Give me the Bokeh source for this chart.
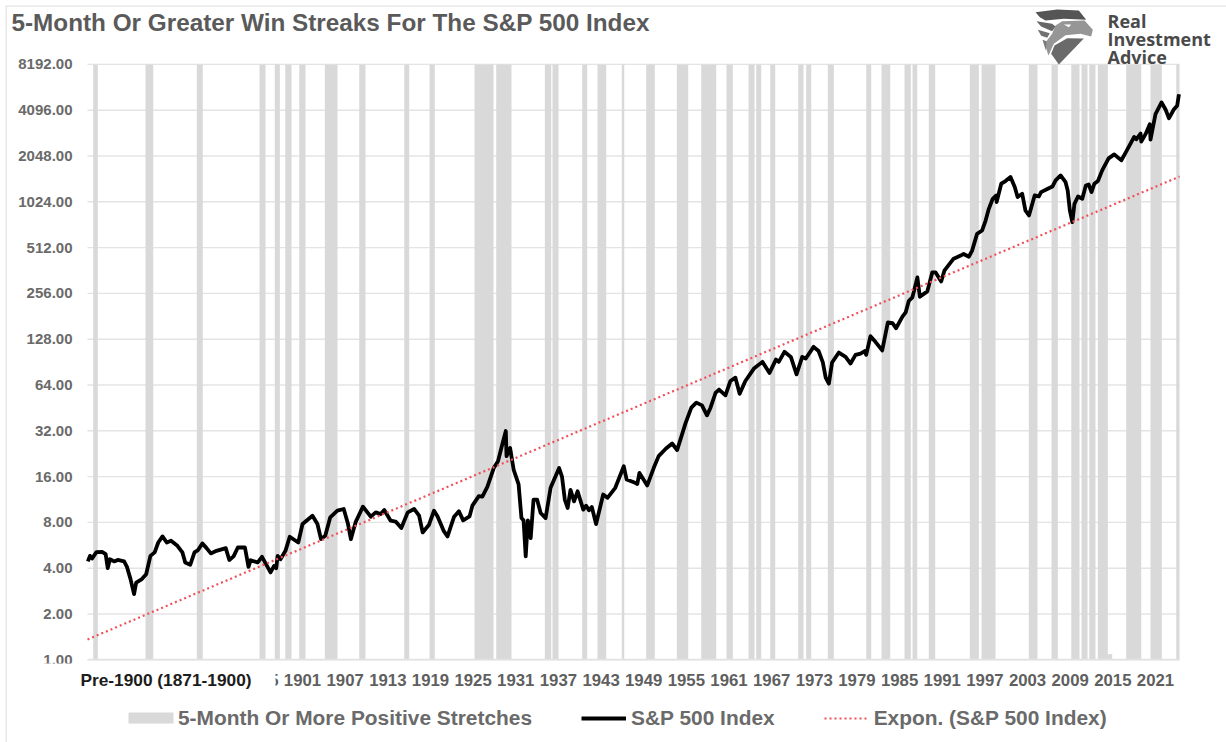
from bokeh.plotting import figure
from bokeh.embed import file_html
from bokeh.resources import INLINE
from bokeh.models import (FixedTicker, PrintfTickFormatter, Label, BoxAnnotation,
                          PolyAnnotation, Legend, LegendItem, Range1d)

TITLE = "5-Month Or Greater Win Streaks For The S&P 500 Index"
Y_TICKS = [1, 2, 4, 8, 16, 32, 64, 128, 256, 512, 1024, 2048, 4096, 8192]
X_TICKS = [1895, 1901, 1907, 1913, 1919, 1925, 1931, 1937, 1943, 1949, 1955, 1961, 1967,
           1973, 1979, 1985, 1991, 1997, 2003, 2009, 2015, 2021]

spx_year = [1870.8,1871.1,1871.4,1872.0,1872.8,1873.3,1873.6,1873.9,1874.5,1875.0,1875.9,1876.3,1876.8,1877.3,1877.6,
            1878.4,1879.0,1879.6,1880.2,1880.7,1881.3,1881.9,1882.5,1883.4,1884.1,1884.5,1885.2,1885.8,1886.3,1886.9,
            1887.5,1888.1,1888.9,1890.2,1890.7,1891.3,1891.9,1892.9,1893.4,1893.7,1894.7,1895.3,1896.0,1896.5,1897.0,
            1897.3,1897.5,1897.9,1898.6,1899.2,1900.4,1901.0,1902.4,1903.1,1903.6,1904.2,1904.9,1905.9,1906.8,1907.4,
            1907.8,1908.5,1909.5,1910.6,1911.3,1912.0,1912.5,1913.4,1914.1,1914.9,1915.8,1916.7,1917.4,1917.9,1918.8,
            1919.5,1920.0,1920.9,1921.4,1922.3,1923.0,1923.6,1924.5,1924.9,1925.8,1926.3,1927.0,1927.9,1928.5,1929.1,
            1929.6,1929.7,1930.2,1930.7,1931.4,1931.8,1932.1,1932.4,1932.7,1933.1,1933.5,1934.0,1934.5,1935.2,1935.9,
            1937.1,1937.5,1937.9,1938.3,1938.7,1939.2,1939.7,1940.5,1940.9,1941.3,1941.7,1942.3,1943.3,1943.9,1945.0,
            1946.2,1946.6,1947.6,1948.1,1948.4,1949.5,1950.4,1951.1,1952.1,1953.0,1953.7,1954.9,1955.7,1956.4,1957.2,
            1957.9,1958.4,1959.1,1959.6,1960.5,1961.2,1961.9,1962.5,1963.3,1964.5,1965.7,1966.7,1967.6,1968.0,1968.8,
            1969.7,1970.5,1971.3,1971.8,1972.9,1973.6,1974.2,1974.6,1975.05,1975.5,1976.45,1977.4,1978.1,1978.8,1979.5,
            1980.1,1980.3,1980.9,1981.6,1982.55,1983.35,1984.0,1984.5,1985.4,1985.85,1986.3,1986.8,1987.5,1987.85,1988.9,
            1989.6,1990.05,1990.85,1991.3,1992.6,1993.6,1994.0,1994.75,1995.2,1995.9,1996.6,1997.1,1997.55,1998.1,1998.6,
            1998.65,1999.3,1999.9,2000.6,2001.2,2001.6,2002.25,2002.7,2003.2,2004.0,2004.6,2004.9,2005.85,2006.5,2006.95,
            2007.65,2008.35,2008.65,2008.95,2009.3,2009.6,2010.1,2010.7,2011.2,2011.6,2012.0,2012.4,2012.9,2013.5,2014.4,
            2015.2,2015.85,2016.2,2016.8,2018.0,2018.3,2018.9,2019.0,2019.6,2020.2,2020.3,2021.0,2021.85,2022.4,2022.9,
            2023.6,2024.05,2024.3]
spx_value = [4.43,4.82,4.63,5.1,5.12,4.95,4.0,4.58,4.43,4.53,4.43,4.08,3.39,2.70,3.22,
             3.39,3.65,4.82,5.08,5.9,6.47,5.9,6.06,5.61,5.08,4.36,4.21,5.08,5.26,5.82,
             5.42,5.0,5.2,5.42,4.53,4.78,5.47,5.47,4.08,4.51,4.36,4.75,4.14,3.75,4.14,
             4.0,4.82,4.58,5.2,6.44,5.9,7.8,8.85,7.8,6.21,6.53,8.63,9.55,9.8,7.8,
             6.21,8.1,10.15,8.72,9.31,9.08,9.65,8.2,8.1,7.34,9.31,9.8,8.85,6.87,7.72,
             9.55,8.76,6.98,6.47,8.67,9.46,8.25,8.76,10.3,11.9,11.8,13.7,18.2,20.2,26,
             31.9,21.8,24.7,17.8,14.2,8.54,8.25,4.78,8.25,6.3,11.3,11.3,9.22,8.54,13.5,
             18.2,16,11.3,9.95,13.1,11,12.8,9.7,10.3,9.6,10.1,7.8,12.2,11.6,13.5,
             18.7,15.3,14.7,14.3,16.9,14,18.2,21.8,24.4,26.4,23.9,36.1,45.4,49,47,
             40.4,45.4,56.7,59.7,54.7,68,71.5,56,68,82,90.8,76.8,94,90.8,105.7,
             97.9,75.2,97.9,95.5,114,107,90,71.6,65.3,90,104.6,98,88.5,100.9,103,
             107,100.9,134,123,108,165,163,151,180,192,229,241,326,243,264,
             352,352,307,361,433,454,465,446,489,630,663,771,920,1072,1128,
             1020,1346,1402,1489,1279,1100,1156,898,832,1128,1110,1186,1248,1290,1417,
             1526,1377,1214,898,752,993,1110,1072,1311,1330,1186,1346,1402,1647,1976,
             2100,1976,1920,2155,2733,2638,2876,2546,2850,3313,2626,3860,4603,4154,3630,
             4154,4385,5220]

trend_year = [1870.75, 2024.38]
trend_value = [1.36, 1500]

streak_start = [1871.55,1878.91,1886.13,1894.95,1897.10,1898.57,1900.54,1904.14,1908.98,1915.31,1918.87,1925.20,1928.25,
                1935.09,1936.17,1940.35,1942.50,1945.92,1949.35,1953.66,1957.09,1960.65,1963.75,1964.83,1966.80,1970.74,
                1971.86,1974.90,1980.31,1982.46,1985.69,1986.82,1989.11,1994.88,1996.53,2003.18,2006.37,2009.15,2010.59,
                2011.68,2012.89,2014.30,2016.88,2020.30,2023.92]
streak_end = [1872.20,1880.00,1886.97,1895.79,1897.81,1899.45,1901.42,1905.92,1909.86,1916.01,1919.61,1927.87,1930.40,
              1935.99,1937.02,1941.05,1943.73,1946.26,1950.56,1955.26,1959.20,1961.54,1964.59,1965.53,1967.50,1971.48,
              1972.57,1975.75,1981.01,1983.68,1986.58,1987.48,1990.01,1996.15,1998.50,2004.40,2007.26,2010.31,2011.44,
              2012.56,2014.30,2014.91,2018.99,2021.89,2024.38]
streak_top = [8192]*41 + [1.09] + [8192]*3
streak_bottom = [1]*45

GREY_TEXT = "#5f5f5f"
FONT = "Liberation Sans"
X_LEFT, X_RIGHT = 1870.75, 2024.38

p = figure(width=1226, height=742, output_backend="svg", toolbar_location=None,
           y_axis_type="log", x_range=Range1d(1858.51, 2030.99), y_range=Range1d(0.2859, 21549),
           min_border_left=0, min_border_right=0, min_border_top=0, min_border_bottom=0,
           background_fill_color="white", border_fill_color="white")
p.outline_line_color = None
p.xgrid.visible = False
p.ygrid.visible = False

# axes, pinned at the chart area's edges
p.yaxis.fixed_location = X_LEFT
p.yaxis.bounds = (1, 8192)
p.yaxis.ticker = FixedTicker(ticks=Y_TICKS)
p.yaxis.formatter = PrintfTickFormatter(format="%.2f")
p.yaxis.axis_line_color = None
p.yaxis.major_tick_line_color = None
p.yaxis.minor_tick_line_color = None
p.yaxis.major_label_standoff = 9
p.yaxis.major_label_text_font = FONT
p.yaxis.major_label_text_font_style = "bold"
p.yaxis.major_label_text_font_size = "15px"
p.yaxis.major_label_text_color = "#6a6a6a"

p.xaxis.fixed_location = 1
p.xaxis.bounds = (X_LEFT, X_RIGHT)
p.xaxis.ticker = FixedTicker(ticks=X_TICKS)
p.xaxis.formatter = PrintfTickFormatter(format="%d")
p.xaxis.axis_line_color = "#e2e2e2"
p.xaxis.axis_line_width = 1.5
p.xaxis.major_tick_line_color = None
p.xaxis.minor_tick_line_color = None
p.xaxis.major_label_standoff = 8
p.xaxis.major_label_text_font = FONT
p.xaxis.major_label_text_font_style = "bold"
p.xaxis.major_label_text_font_size = "16.8px"
p.xaxis.major_label_text_color = GREY_TEXT

# series
r_grid = p.segment(x0=[X_LEFT]*len(Y_TICKS), x1=[X_RIGHT]*len(Y_TICKS), y0=Y_TICKS, y1=Y_TICKS,
                   line_color="#e4e4e4", line_width=1.4)
r_bar = p.quad(left=streak_start, right=streak_end, top=streak_top, bottom=streak_bottom,
               fill_color="#d9d9d9", line_color=None)
r_trend = p.line(trend_year, trend_value, line_color="#f0505a", line_width=2.2, line_dash="2 3")
r_line = p.line(spx_year, spx_value, line_color="black", line_width=3.8, line_join="round")
p.renderers = [r_grid, r_bar, r_line, r_trend]

legend = Legend(items=[LegendItem(label="5-Month Or More Positive Stretches", renderers=[r_bar]),
                       LegendItem(label="S&P 500 Index", renderers=[r_line]),
                       LegendItem(label="Expon. (S&P 500 Index)", renderers=[r_trend])],
                orientation="horizontal", location=(128, 12), padding=0, margin=0, spacing=49,
                glyph_width=45, glyph_height=12, label_standoff=5,
                border_line_color=None, background_fill_alpha=0,
                label_text_font=FONT, label_text_font_style="bold",
                label_text_font_size="20.9px", label_text_color="#6a6a6a")
p.add_layout(legend, "center")

# the legend swatch at its full width
p.add_layout(BoxAnnotation(left=128, right=173, top=712, bottom=723,
                           left_units="canvas", right_units="canvas", top_units="canvas",
                           bottom_units="canvas", fill_color="#d9d9d9", fill_alpha=1,
                           line_color=None))

# white masks that cut the first tick labels, as in the source chart
p.add_layout(BoxAnnotation(left=30, right=275, top=666, bottom=696,
                           left_units="canvas", right_units="canvas", top_units="canvas",
                           bottom_units="canvas", fill_color="white", fill_alpha=1,
                           line_color=None))
p.add_layout(BoxAnnotation(left=30, right=80, top=663, bottom=672,
                           left_units="canvas", right_units="canvas", top_units="canvas",
                           bottom_units="canvas", fill_color="white", fill_alpha=1,
                           line_color=None))


def label(text, x, y, size, color, **kw):
    p.add_layout(Label(text=text, x=x, y=y, x_units="canvas", y_units="canvas",
                       text_font=kw.get("font", FONT), text_font_style="bold",
                       text_font_size=size, text_color=color, text_baseline="middle",
                       text_align=kw.get("align", "left")))


label(TITLE, 11, 22, "24.3px", "#5a5a5a")
label("Pre-1900 (1871-1900)", 80, 679, "17.3px", "#1c1c1c")
label("Real", 1107, 20, "18px", "#4a4a4a", font="Open Sans")
label("Investment", 1107, 38, "18px", "#4a4a4a", font="Open Sans")
label("Advice", 1107, 56, "18px", "#4a4a4a", font="Open Sans")

# outer frame of the picture
p.add_layout(PolyAnnotation(xs=[5, 1226, 1226, 6.3, 6.3, 5], ys=[5, 5, 6.3, 6.3, 742, 742],
                            xs_units="canvas", ys_units="canvas", fill_color="#e4e4e4",
                            fill_alpha=1, line_color=None))


# logo shapes, given in px of a 3x crop whose origin is (1020, 0)
def logo(points, color):
    p.add_layout(PolyAnnotation(xs=[1020 + a / 3 for a, b in points],
                                ys=[b / 3 for a, b in points],
                                xs_units="canvas", ys_units="canvas", fill_color=color,
                                fill_alpha=1, line_color=None))


logo([(45, 35), (110, 27), (175, 30), (197, 58), (130, 55), (75, 60), (58, 50)], "#555555")
logo([(125, 62), (192, 60), (217, 88), (212, 108), (180, 100), (135, 104), (100, 130),
      (84, 165), (72, 130), (95, 100), (105, 75)], "#969696")
logo([(48, 62), (95, 70), (105, 78), (95, 92), (62, 78)], "#666666")
logo([(52, 88), (88, 98), (80, 112), (62, 106)], "#707070")
logo([(66, 118), (78, 122), (76, 150)], "#7a7a7a")
logo([(115, 192), (92, 160), (102, 135), (140, 113), (190, 114)], "#6a6a6a")
logo([(130, 72), (152, 72), (145, 80)], "#ffffff")

open("out.html", "w").write(file_html(p, INLINE))
